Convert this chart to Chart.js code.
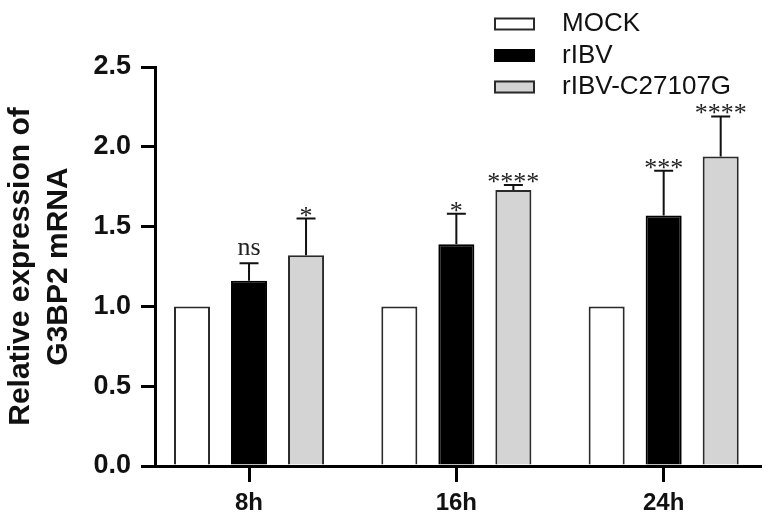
<!DOCTYPE html>
<html>
<head>
<meta charset="utf-8">
<script src="https://cdn.jsdelivr.net/npm/chart.js@4"></script>
<style>
  html, body { margin: 0; padding: 0; background: #fff; }
</style>
</head>
<body>
<canvas id="chart" width="775" height="523"></canvas>
<script>
const categories = ["8h", "16h", "24h"];
const seriesNames = ["MOCK", "rIBV", "rIBV-C27107G"];
const mockValues = [1.0, 1.0, 1.0];
const rIBVValues = [1.16, 1.39, 1.57];
const mutantValues = [1.32, 1.73, 1.94];
const rIBVErrors = [0.11, 0.19, 0.28];
const mutantErrors = [0.23, 0.03, 0.25];
const rIBVMarks = ["ns", "*", "***"];
const mutantMarks = ["*", "****", "****"];
const yTicks = [0, 0.5, 1.0, 1.5, 2.0, 2.5];

const sans = '"Liberation Sans", Arial, Helvetica, sans-serif';
const serif = '"Liberation Serif", "Times New Roman", serif';

const pts = (vals) => vals.map((v, i) => ({ x: i, y: v }));

// upper error bars + significance marks
const errorBars = {
  id: "errorBars",
  afterDatasetsDraw(chart) {
    const { ctx } = chart;
    const y = chart.scales.y;
    chart.data.datasets.forEach((ds, di) => {
      if (!ds.errors) return;
      const meta = chart.getDatasetMeta(di);
      meta.data.forEach((bar, i) => {
        const top = y.getPixelForValue(ds.data[i].y + ds.errors[i]);
        ctx.save();
        ctx.strokeStyle = "#111";
        ctx.lineWidth = 2;
        ctx.beginPath();
        ctx.moveTo(bar.x, bar.y);
        ctx.lineTo(bar.x, top);
        ctx.moveTo(bar.x - 9.5, top);
        ctx.lineTo(bar.x + 9.5, top);
        ctx.stroke();
        const mark = ds.marks[i];
        ctx.font = "26px " + serif;
        ctx.fillStyle = "#222";
        ctx.textAlign = "center";
        ctx.textBaseline = "alphabetic";
        ctx.fillText(mark, bar.x, mark === "ns" ? top - 8 : top + 5);
        ctx.restore();
      });
    });
  }
};

// legend in the top right corner, overlapping the plot top
const boxLegend = {
  id: "boxLegend",
  afterDraw(chart) {
    const { ctx } = chart;
    chart.data.datasets.forEach((ds, i) => {
      const cy = 24 + i * 31.5;
      ctx.save();
      ctx.fillStyle = ds.backgroundColor;
      ctx.fillRect(494, cy - 6.5, 41, 13);
      ctx.strokeStyle = ds.borderColor;
      ctx.lineWidth = 2;
      ctx.strokeRect(495, cy - 5.5, 39, 11);
      ctx.font = "26px " + sans;
      ctx.fillStyle = "#111";
      ctx.textAlign = "left";
      ctx.textBaseline = "middle";
      ctx.fillText(ds.label, 562, cy);
      ctx.restore();
    });
  }
};

const chart = new Chart(document.getElementById("chart"), {
  type: "bar",
  data: {
    datasets: [
      { label: seriesNames[0], data: pts(mockValues), backgroundColor: "#ffffff", borderColor: "#2a2a2a" },
      { label: seriesNames[1], data: pts(rIBVValues), backgroundColor: "#000000", borderColor: "#000000", errors: rIBVErrors, marks: rIBVMarks },
      { label: seriesNames[2], data: pts(mutantValues), backgroundColor: "#d4d4d4", borderColor: "#2a2a2a", errors: mutantErrors, marks: mutantMarks },
    ],
  },
  options: {
    responsive: false,
    animation: false,
    categoryPercentage: 0.825,
    barPercentage: 0.632,
    borderWidth: 2,
    borderSkipped: "start",
    layout: { padding: { top: 67, right: 15, left: 0, bottom: 0 } },
    plugins: {
      legend: { display: false },
      tooltip: { enabled: false },
    },
    scales: {
      x: {
        type: "linear",
        offset: false,
        min: -0.4535,
        max: 2.4646,
        z: 1,
        afterBuildTicks: (s) => { s.ticks = categories.map((_, i) => ({ value: i })); },
        afterFit: (s) => { s.height = 57; },
        border: { color: "#000", width: 3 },
        grid: { offset: false, drawOnChartArea: false, drawTicks: true, tickLength: 16, lineWidth: 3, color: "#000" },
        ticks: {
          padding: 7,
          color: "#111",
          font: { family: sans, size: 24, weight: "bold" },
          callback: (v) => categories[v] ?? "",
        },
      },
      y: {
        min: 0,
        max: 2.5,
        afterBuildTicks: (s) => { s.ticks = yTicks.map(v => ({ value: v })); },
        afterFit: (s) => { s.width = 155; },
        border: { color: "#000", width: 3 },
        grid: { drawOnChartArea: false, drawTicks: true, tickLength: 14, lineWidth: 3, color: "#000" },
        ticks: {
          padding: 10,
          color: "#111",
          font: { family: sans, size: 27, weight: "bold" },
          callback: (v) => v.toFixed(1),
        },
        title: {
          display: true,
          text: ["Relative expression of", "G3BP2 mRNA"],
          color: "#111",
          padding: { top: 2, bottom: 0 },
          font: { family: sans, size: 30, weight: "bold", lineHeight: 1.27 },
        },
      },
    },
  },
  plugins: [errorBars, boxLegend],
});
</script>
</body>
</html>
